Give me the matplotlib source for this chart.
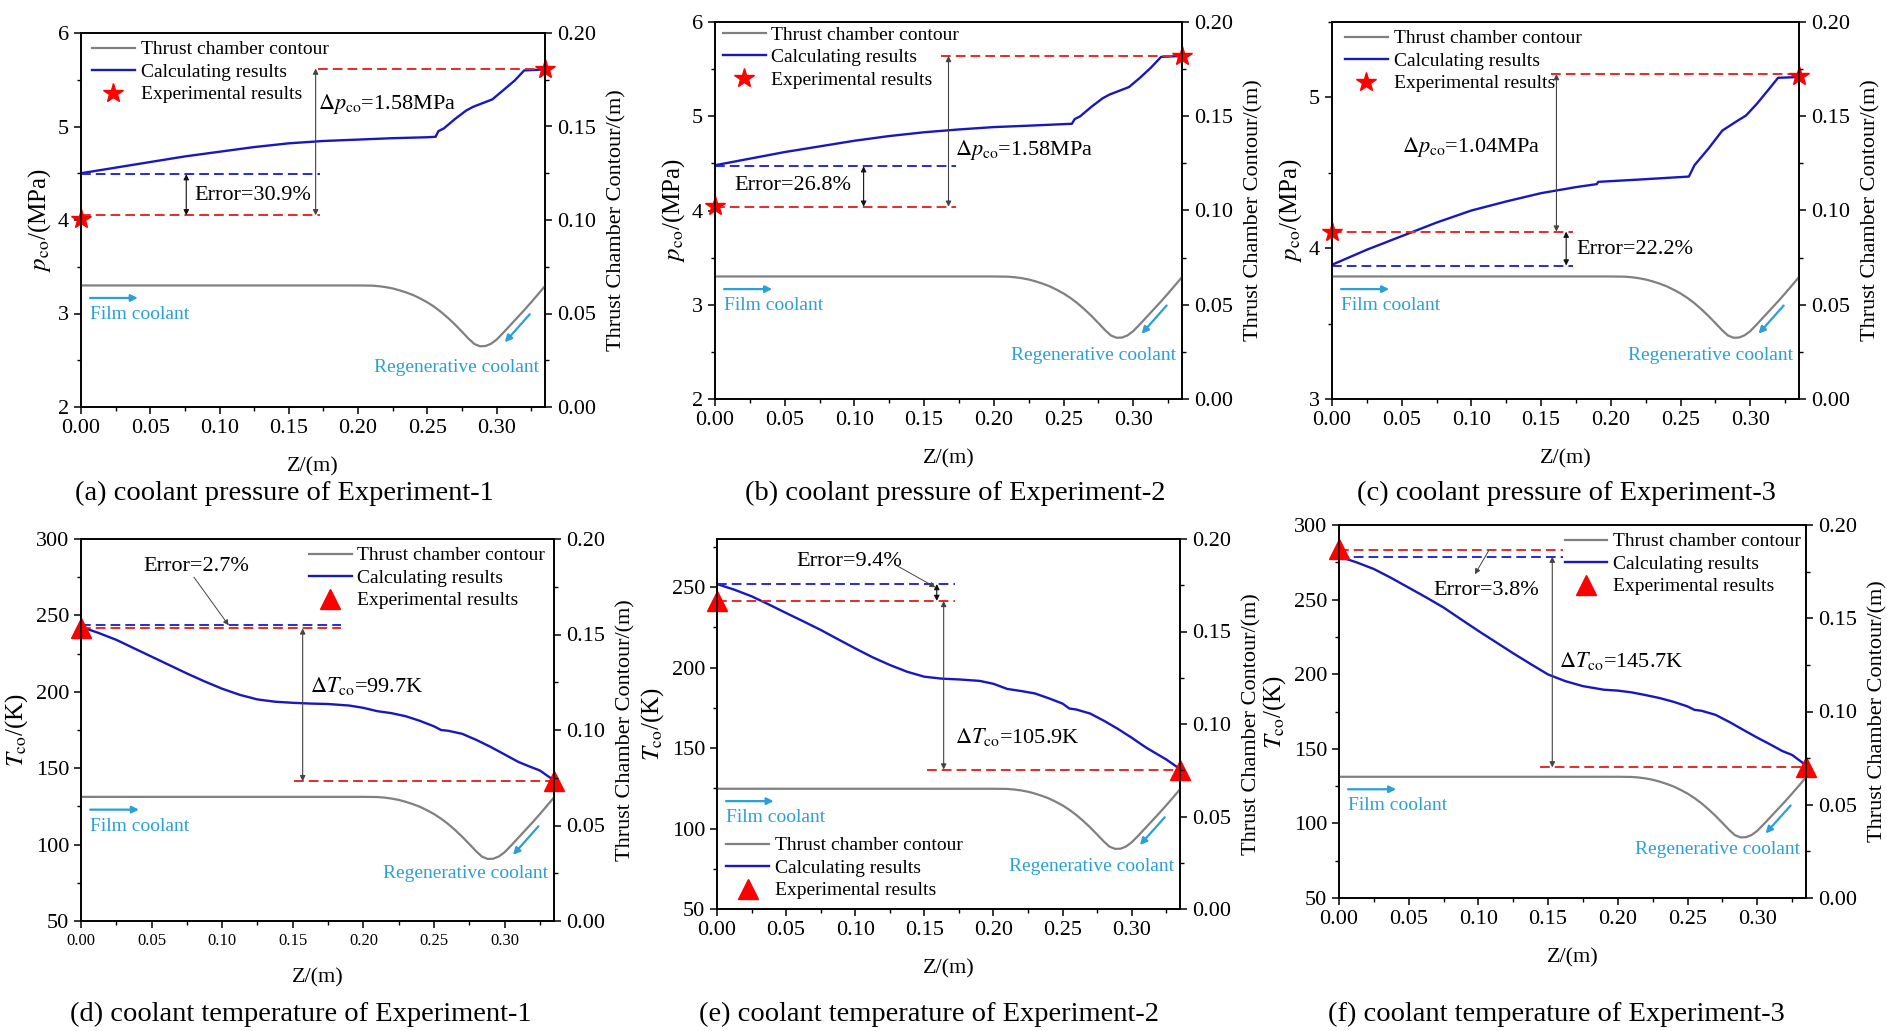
import matplotlib
matplotlib.use('Agg')
import matplotlib.pyplot as plt
from matplotlib.ticker import MultipleLocator

plt.rcParams['font.family'] = ['Liberation Serif', 'DejaVu Serif']
plt.rcParams['mathtext.fontset'] = 'stix'

# thrust chamber contour (same for all panels, right axis)
z_wall = [0.000, 0.200, 0.210, 0.215, 0.220, 0.225, 0.230, 0.235, 0.240, 0.245, 0.250,
          0.255, 0.260, 0.265, 0.270, 0.275, 0.280, 0.284, 0.288, 0.292, 0.296, 0.300,
          0.305, 0.310, 0.315, 0.320, 0.325, 0.330, 0.335]
r_wall = [0.0650, 0.0650, 0.0649, 0.0646, 0.0641, 0.0634, 0.0624, 0.0612, 0.0598, 0.0580,
          0.0560, 0.0536, 0.0508, 0.0476, 0.0441, 0.0403, 0.0364, 0.0337, 0.0325, 0.0326,
          0.0338, 0.0360, 0.0398, 0.0438, 0.0478, 0.0518, 0.0560, 0.0603, 0.0647]

# coolant pressure, MPa
z_pa = [0, 0.025, 0.05, 0.075, 0.10, 0.125, 0.15, 0.175, 0.20, 0.225, 0.25, 0.256, 0.258,
        0.262, 0.27, 0.278, 0.283, 0.29, 0.297, 0.305, 0.313, 0.32, 0.335]
p_a = [4.50, 4.56, 4.62, 4.68, 4.73, 4.78, 4.82, 4.845, 4.86, 4.875, 4.885, 4.89, 4.95,
       4.98, 5.08, 5.17, 5.21, 5.25, 5.29, 5.39, 5.49, 5.60, 5.61]
z_pb = [0, 0.025, 0.05, 0.075, 0.10, 0.125, 0.15, 0.175, 0.20, 0.225, 0.256, 0.258,
        0.262, 0.27, 0.278, 0.283, 0.29, 0.297, 0.305, 0.313, 0.32, 0.335]
p_b = [4.48, 4.55, 4.62, 4.68, 4.74, 4.79, 4.83, 4.86, 4.885, 4.90, 4.92, 4.97,
       5.00, 5.10, 5.19, 5.23, 5.27, 5.31, 5.41, 5.52, 5.63, 5.64]
z_pc = [0, 0.025, 0.05, 0.075, 0.10, 0.125, 0.15, 0.175, 0.19, 0.191, 0.22, 0.256, 0.26,
        0.27, 0.28, 0.29, 0.297, 0.305, 0.313, 0.32, 0.335]
p_c = [3.89, 3.99, 4.08, 4.17, 4.25, 4.31, 4.365, 4.405, 4.425, 4.44, 4.455, 4.475, 4.55,
       4.66, 4.78, 4.84, 4.88, 4.96, 5.05, 5.13, 5.135]
pexp_a = [4.01, 5.62]
pexp_b = [4.05, 5.64]
pexp_c = [4.11, 5.14]

# coolant temperature, K
z_T = [0, 0.0125, 0.025, 0.0375, 0.05, 0.0625, 0.075, 0.0875, 0.10, 0.1125, 0.125, 0.1375,
       0.15, 0.1625, 0.175, 0.19, 0.20, 0.21, 0.22, 0.23, 0.24, 0.25, 0.255, 0.26, 0.27,
       0.28, 0.29, 0.30, 0.31, 0.318, 0.325, 0.335]
T_d = [242.5, 238.5, 234, 228.5, 223, 217.5, 212, 206.8, 202, 198, 195, 193.5, 192.8, 192.3,
       192, 191, 189.5, 187.3, 186, 184, 181, 177.4, 175, 174.5, 172.5, 168.5, 164, 159, 154,
       151, 148.5, 142]
T_e = [252, 248.5, 244.4, 239.3, 234, 228.8, 223.5, 217.7, 212, 206.5, 201.7, 197.5, 194.4,
       193.2, 192.7, 191.8, 190, 186.8, 185.5, 184, 181, 177.7, 174.6, 174, 171.5, 167, 162,
       156.5, 150.6, 146.5, 143, 137]
T_f = [278.8, 275, 270.5, 264.5, 258, 251.5, 244.7, 236.8, 229, 221.5, 214, 206.8, 199.8,
       195.3, 192, 189.6, 189, 187.8, 186, 184, 181.5, 178.4, 176.1, 175.5, 172.8, 168, 162.7,
       157.5, 152.6, 148.5, 145.9, 139]
Texp_d = [241.5, 141.5]
Texp_e = [241.5, 136.7]
Texp_f = [284.0, 137.5]
z_exp = [0, 0.335]

labels = ['Thrust chamber contour', 'Calculating results', 'Experimental results']
captions = ['(a) coolant pressure of Experiment-1', '(b) coolant pressure of Experiment-2',
            '(c) coolant pressure of Experiment-3', '(d) coolant temperature of Experiment-1',
            '(e) coolant temperature of Experiment-2', '(f) coolant temperature of Experiment-3']

W, H = 1887, 1031
fig = plt.figure(figsize=(W / 100, H / 100), dpi=100)

BLUE = '#1818bc'
RED = '#e42b2b'
DBLUE = '#2b2bd0'
CYAN = '#2a9fd8'


def px_rect(l, r, t, b):
    return [l / W, 1 - b / H, (r - l) / W, (b - t) / H]


def panel(rect, z, y, yexp, marker, ylim, ymaj, ymin, ylabel, xsize=16, regen_y=0.023):
    ax = fig.add_axes(px_rect(*rect))
    ax2 = ax.twinx()
    ax.set_xlim(0, 0.335)
    ax.set_ylim(*ylim)
    ax2.set_ylim(0, 0.2)
    ax.xaxis.set_major_locator(MultipleLocator(0.05))
    ax.xaxis.set_minor_locator(MultipleLocator(0.025))
    ax.yaxis.set_major_locator(MultipleLocator(ymaj))
    ax.yaxis.set_minor_locator(MultipleLocator(ymin))
    ax2.yaxis.set_major_locator(MultipleLocator(0.05))
    ax2.yaxis.set_minor_locator(MultipleLocator(0.025))
    ax.xaxis.set_major_formatter(plt.FormatStrFormatter('%.2f'))
    ax2.yaxis.set_major_formatter(plt.FormatStrFormatter('%.2f'))
    for a in (ax, ax2):
        for s in a.spines.values():
            s.set_linewidth(1.2)
        a.tick_params(which='major', direction='out', length=5, width=1.1, labelsize=16)
        a.tick_params(which='minor', direction='out', length=3, width=1.0)
    ax.tick_params(axis='x', labelsize=xsize)
    ax.set_xlabel('Z/(m)', fontsize=16, labelpad=14)
    ax.set_ylabel(ylabel, fontsize=18, labelpad=4)
    ax2.set_ylabel('Thrust Chamber Contour/(m)', fontsize=16, labelpad=8)

    hw, = ax2.plot(z_wall, r_wall, color='#808080', lw=1.6)
    hc, = ax.plot(z, y, color=BLUE, lw=1.7)
    if marker == '*':
        he, = ax.plot(z_exp, yexp, ls='none', marker='*', ms=15, color='red', clip_on=False, zorder=5)
    else:
        he, = ax.plot(z_exp, yexp, ls='none', marker='^', ms=14, color='red', clip_on=False, zorder=5)

    # coolant flow labels
    ax2.annotate('', xy=(0.041, 0.0583), xytext=(0.0065, 0.0583),
                 arrowprops=dict(arrowstyle='-|>', color=CYAN, lw=1.6, mutation_scale=10,
                                 shrinkA=0, shrinkB=0))
    ax2.text(0.0065, 0.0497, 'Film coolant', color=CYAN, fontsize=14, va='center', ha='left')
    ax2.annotate('', xy=(0.306, 0.0346), xytext=(0.324, 0.0496),
                 arrowprops=dict(arrowstyle='-|>', color=CYAN, lw=1.6, mutation_scale=10,
                                 shrinkA=0, shrinkB=0))
    ax2.text(0.331, regen_y, 'Regenerative coolant', color=CYAN, fontsize=14,
             va='center', ha='right')
    return ax, ax2, [hw, hc, he]


def dash(ax, y, z0, z1, color):
    ax.plot([z0, z1], [y, y], color=color, lw=1.4, ls=(0, (5, 2.6)))


def darrow(ax, x, y0, y1, color='#444444'):
    ax.annotate('', xy=(x, y1), xytext=(x, y0),
                arrowprops=dict(arrowstyle='<|-|>', color=color, lw=0.8, mutation_scale=8,
                                shrinkA=0, shrinkB=0))


def leader(ax, tail, head):
    ax.annotate('', xy=head, xytext=tail,
                arrowprops=dict(arrowstyle='-|>', color='#444444', lw=0.7, mutation_scale=8,
                                shrinkA=0, shrinkB=0))


def legend(ax, handles, loc, anchor):
    ax.legend(handles, labels, loc=loc, bbox_to_anchor=anchor, frameon=False, fontsize=14,
              handlelength=2.2, handletextpad=0.3, labelspacing=0.25, borderaxespad=0,
              numpoints=1)


plab = r'$p_{\mathrm{co}}$/(MPa)'
tlab = r'$T_{\mathrm{co}}$/(K)'

# (a)
ax, ax2, h = panel((81, 545, 33, 407), z_pa, p_a, pexp_a, '*', (2, 6), 1, 0.5, plab, regen_y=0.021)
dash(ax, pexp_a[1], 0.171, 0.335, RED)
dash(ax, pexp_a[0] + 0.04, 0, 0.1724, RED)
dash(ax, p_a[0] - 0.01, 0, 0.1724, DBLUE)
darrow(ax, 0.1694, pexp_a[0] + 0.04, pexp_a[1])
darrow(ax, 0.076, pexp_a[0] + 0.04, p_a[0] - 0.01, '#111111')
ax.text(0.171, 5.24, r'$\Delta p_{\mathrm{co}}$=1.58MPa', fontsize=16, va='center')
ax.text(0.0816, 4.26, 'Error=30.9%', fontsize=16, va='center')
legend(ax, h, 'upper left', (0.007, 1.0))

# (b)
ax, ax2, h = panel((715, 1182, 22, 399), z_pb, p_b, pexp_b, '*', (2, 6), 1, 0.5, plab)
dash(ax, pexp_b[1], 0.162, 0.335, RED)
dash(ax, pexp_b[0] - 0.01, 0, 0.173, RED)
dash(ax, p_b[0] - 0.01, 0, 0.173, DBLUE)
darrow(ax, 0.1675, pexp_b[0] - 0.01, pexp_b[1])
darrow(ax, 0.1066, pexp_b[0] - 0.01, p_b[0] - 0.01, '#111111')
ax.text(0.172, 4.64, r'$\Delta p_{\mathrm{co}}$=1.58MPa', fontsize=16, va='center')
ax.text(0.0138, 4.26, 'Error=26.8%', fontsize=16, va='center')
legend(ax, h, 'upper left', (0.0, 1.01))

# (c)
ax, ax2, h = panel((1332, 1799, 22, 399), z_pc, p_c, pexp_c, '*', (3, 5.5), 1, 0.5, plab)
dash(ax, pexp_c[1] + 0.015, 0.157, 0.335, RED)
dash(ax, pexp_c[0], 0, 0.173, RED)
dash(ax, p_c[0] - 0.005, 0, 0.173, DBLUE)
darrow(ax, 0.161, pexp_c[0], pexp_c[1] + 0.015)
darrow(ax, 0.168, p_c[0] - 0.005, pexp_c[0], '#111111')
ax.text(0.05, 4.67, r'$\Delta p_{\mathrm{co}}$=1.04MPa', fontsize=16, va='center')
ax.text(0.175, 3.99, 'Error=22.2%', fontsize=16, va='center')
legend(ax, h, 'upper left', (0.011, 1.0))

# (d)
ax, ax2, h = panel((81, 554, 539, 921), z_T, T_d, Texp_d, '^', (50, 300), 50, 25, tlab, xsize=12,
                   regen_y=0.025)
dash(ax, Texp_d[0], 0, 0.184, RED)
dash(ax, T_d[0] + 1.0, 0, 0.184, DBLUE)
dash(ax, Texp_d[1], 0.151, 0.335, RED)
darrow(ax, 0.157, Texp_d[0], Texp_d[1])
leader(ax, (0.080, 275), (0.1046, 243.5))
ax.text(0.044, 282, 'Error=2.7%', fontsize=16, va='center')
ax.text(0.162, 204, r'$\Delta T_{\mathrm{co}}$=99.7K', fontsize=16, va='center')
legend(ax, h, 'upper right', (0.998, 1.0))

# (e)
ax, ax2, h = panel((717, 1180, 539, 909), z_T, T_e, Texp_e, '^', (50, 280), 50, 25, tlab)
dash(ax, T_e[0], 0, 0.172, DBLUE)
dash(ax, Texp_e[0], 0, 0.172, RED)
dash(ax, Texp_e[1], 0.152, 0.335, RED)
darrow(ax, 0.164, Texp_e[0], Texp_e[1])
darrow(ax, 0.159, T_e[0], Texp_e[0], '#111111')
leader(ax, (0.130, 263.5), (0.158, 250))
ax.text(0.0574, 266, 'Error=9.4%', fontsize=16, va='center')
ax.text(0.172, 157, r'$\Delta T_{\mathrm{co}}$=105.9K', fontsize=16, va='center')
legend(ax, h, 'lower left', (0.003, 0.005))

# (f)
ax, ax2, h = panel((1339, 1806, 525, 898), z_T, T_f, Texp_f, '^', (50, 300), 50, 25, tlab,
                   regen_y=0.026)
dash(ax, Texp_f[0] - 0.6, 0, 0.161, RED)
dash(ax, T_f[0], 0, 0.161, DBLUE)
dash(ax, Texp_f[1], 0.144, 0.335, RED)
darrow(ax, 0.153, T_f[0], Texp_f[1])
leader(ax, (0.1075, 283), (0.0975, 267))
ax.text(0.0677, 256, 'Error=3.8%', fontsize=16, va='center')
ax.text(0.158, 209, r'$\Delta T_{\mathrm{co}}$=145.7K', fontsize=16, va='center')
legend(ax, h, 'upper right', (1.006, 1.0))

# captions
cap_pos = [(284, 493), (955, 493), (1566, 493), (301, 1014), (929, 1014), (1556, 1014)]
for (cx, cy), cap in zip(cap_pos, captions):
    fig.text(cx / W, 1 - cy / H, cap, fontsize=20.5, ha='center', va='center')

fig.savefig('out.png', dpi=100)
